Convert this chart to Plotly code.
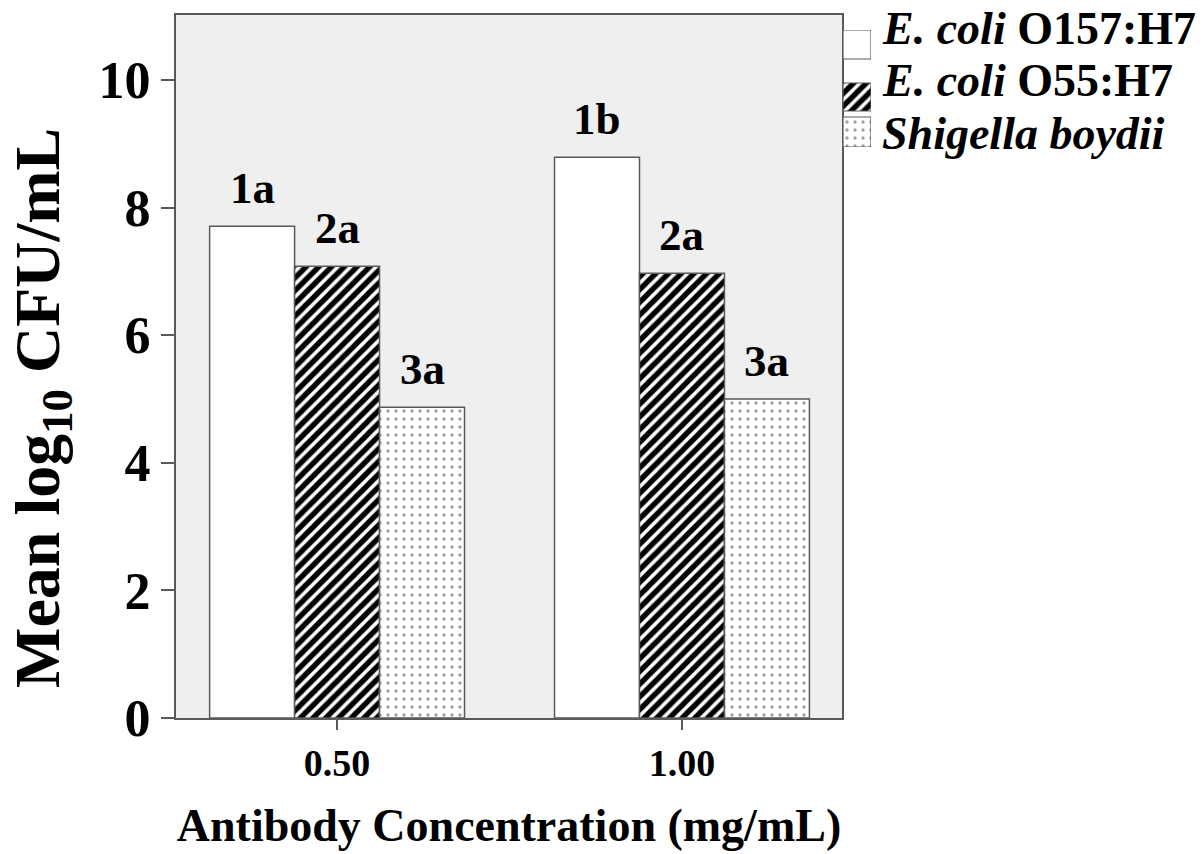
import plotly.graph_objects as go

# ---- data ----
concentrations = ["0.50", "1.00"]
series_names = ["E. coli O157:H7", "E. coli O55:H7", "Shigella boydii"]
legend_text = ["<b><i>E. coli</i> O157:H7</b>",
               "<b><i>E. coli</i> O55:H7</b>",
               "<b><i>Shigella boydii</i></b>"]
o157_values = [7.71, 8.79]
o55_values = [7.08, 6.97]
shigella_values = [4.87, 5.00]
o157_labels = ["1a", "1b"]
o55_labels = ["2a", "2a"]
shigella_labels = ["3a", "3a"]
y_ticks = [0, 2, 4, 6, 8, 10]

values = [o157_values, o55_values, shigella_values]
labels = [o157_labels, o55_labels, shigella_labels]

# ---- styles ----
FONT = "Liberation Serif"
PLOT_BG = "#efefef"
EDGE = "#5a5a5a"
BARGAP = 0.261
patterns = [
    dict(shape=""),
    dict(shape="/", fgcolor="#000000", bgcolor="white", fgopacity=1,
         fillmode="replace", size=9, solidity=0.6),
    dict(shape=".", fgcolor="#a3a3a3", bgcolor="white", fgopacity=1,
         fillmode="replace", size=8, solidity=0.15),
]

# page geometry (px)
W, H = 1204, 854
M_L, M_R, M_T, M_B = 176, 0, 15, 136
PLOT_RIGHT = 842
paper_w = W - M_L - M_R
paper_h = H - M_T - M_B
main_dom = (PLOT_RIGHT - M_L) / paper_w


def px_x(x):
    return (x - M_L) / paper_w


def px_y(y):
    return (H - M_B - y) / paper_h


x_pos = list(range(len(concentrations)))
fig = go.Figure()

for i, name in enumerate(series_names):
    fig.add_trace(go.Bar(
        x=x_pos, y=values[i], name=name, showlegend=False,
        marker=dict(color="white", line=dict(color=EDGE, width=1.5),
                    pattern=patterns[i]),
        xaxis="x", yaxis="y",
    ))

# significance letters above bars
n = len(series_names)
bar_w = (1 - BARGAP) / n
annotations = []
for i in range(n):
    for j, xc in enumerate(x_pos):
        annotations.append(dict(
            x=xc + (i - (n - 1) / 2) * bar_w, y=values[i][j],
            xref="x", yref="y", text=f"<b>{labels[i][j]}</b>",
            showarrow=False, yanchor="bottom", yshift=11,
            font=dict(family=FONT, size=45, color="black"),
        ))

# y-axis title
annotations.append(dict(
    x=px_x(42), y=px_y(408), xref="paper", yref="paper",
    xanchor="center", yanchor="middle", textangle=-90,
    text="<b>Mean log<sub>10</sub> CFU/mL</b>", showarrow=False,
    font=dict(family=FONT, size=64, color="black"),
))

# legend swatches, drawn as bars on a small pixel-scaled axis pair
sw_left, sw_right = 843, 871
sw_top = [30, 83, 117]
sw_height = [29, 28, 30]
text_mid = [28, 81, 133]
for i, name in enumerate(series_names):
    fig.add_trace(go.Bar(
        x=[0], y=[sw_height[i]], base=[sw_top[i]], width=1, offset=-0.5,
        showlegend=False, hoverinfo="skip",
        marker=dict(color="white", line=dict(color=EDGE, width=1.2),
                    pattern=patterns[i]),
        xaxis="x2", yaxis="y2",
    ))
    annotations.append(dict(
        x=px_x(880), y=px_y(text_mid[i]),
        xref="paper", yref="paper", xanchor="left", yanchor="middle",
        text=legend_text[i], showarrow=False,
        font=dict(family=FONT, size=46, color="black"),
    ))

fig.update_layout(
    width=W, height=H,
    margin=dict(l=M_L, r=M_R, t=M_T, b=M_B),
    paper_bgcolor="white", plot_bgcolor="rgba(0,0,0,0)",
    barmode="group", bargap=BARGAP, bargroupgap=0,
    font=dict(family=FONT, color="black"),
    annotations=annotations,
    shapes=[dict(type="rect", xref="x domain", yref="y domain",
                 x0=0, x1=1, y0=0, y1=1, fillcolor=PLOT_BG,
                 line=dict(width=0), layer="below")],
    xaxis=dict(
        domain=[0, main_dom],
        range=[-0.467, 1.464],
        tickvals=x_pos, ticktext=concentrations,
        tickfont=dict(family=FONT, size=38, weight="bold"),
        ticks="outside", ticklen=10, tickwidth=2, tickcolor=EDGE,
        showline=True, linecolor=EDGE, linewidth=2, mirror=True,
        showgrid=False, zeroline=False,
        title=dict(text="<b>Antibody Concentration (mg/mL)</b>",
                   font=dict(family=FONT, size=46), standoff=26),
    ),
    yaxis=dict(
        domain=[0, 1],
        range=[0, 11.02],
        tickvals=y_ticks,
        tickfont=dict(family=FONT, size=52, weight="bold"),
        ticks="outside", ticklen=13, tickwidth=2, tickcolor=EDGE,
        showline=True, linecolor=EDGE, linewidth=2, mirror=True,
        showgrid=False, zeroline=False,
    ),
    xaxis2=dict(
        domain=[px_x(sw_left), px_x(sw_right)],
        range=[-0.5, 0.5], visible=False, anchor="y2",
    ),
    yaxis2=dict(
        domain=[px_y(147), px_y(30)],
        range=[147, 30], visible=False, anchor="x2",
    ),
)

fig.write_html("out.html")
